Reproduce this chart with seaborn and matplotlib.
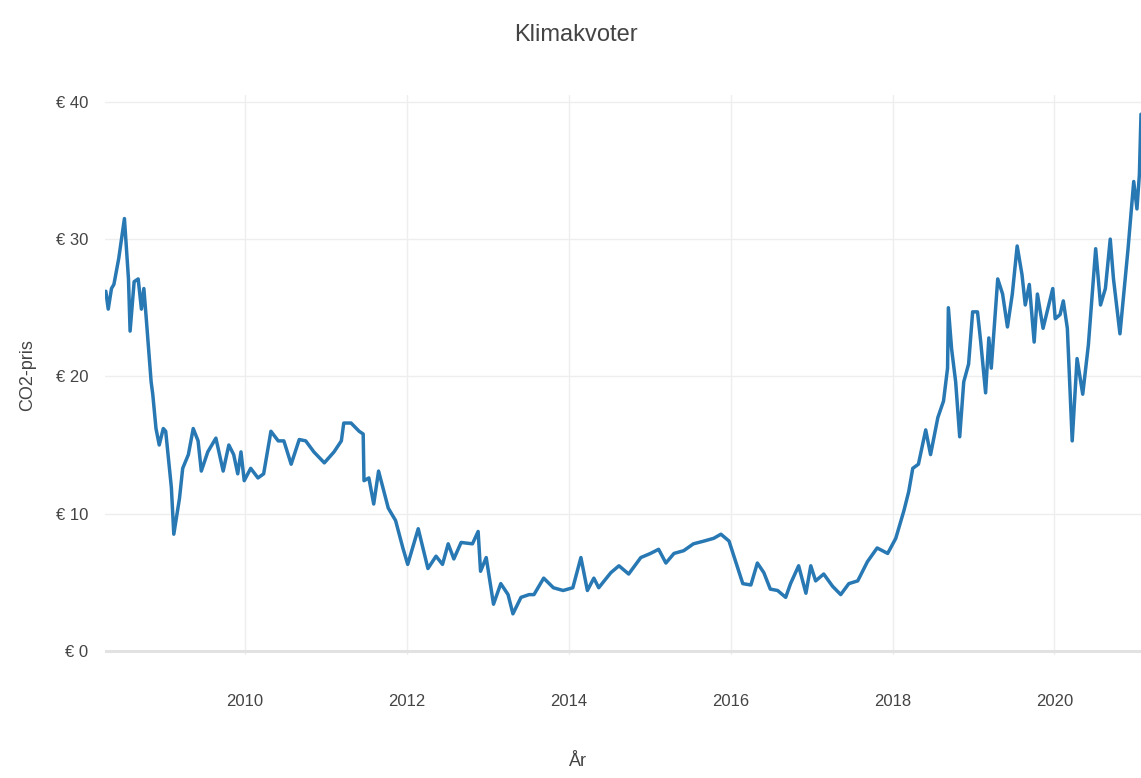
import matplotlib
matplotlib.use("Agg")
import matplotlib.pyplot as plt
import seaborn as sns
import pandas as pd
from matplotlib.ticker import FuncFormatter

years = [
    2008.28, 2008.31, 2008.35, 2008.38, 2008.44, 2008.51, 2008.56, 2008.58, 2008.63, 2008.68,
    2008.72, 2008.75, 2008.78, 2008.84, 2008.86, 2008.90, 2008.94, 2008.99, 2009.02, 2009.09,
    2009.12, 2009.19, 2009.23, 2009.30, 2009.36, 2009.42, 2009.46, 2009.54, 2009.64, 2009.73,
    2009.80, 2009.86, 2009.91, 2009.95, 2009.99, 2010.07, 2010.16, 2010.23, 2010.32, 2010.41,
    2010.48, 2010.57, 2010.67, 2010.75, 2010.85, 2010.98, 2011.10, 2011.19, 2011.22, 2011.31,
    2011.41, 2011.46, 2011.47, 2011.53, 2011.59, 2011.65, 2011.77, 2011.86, 2011.95, 2012.01,
    2012.14, 2012.26, 2012.36, 2012.44, 2012.51, 2012.58, 2012.67, 2012.81, 2012.88, 2012.91,
    2012.98, 2013.07, 2013.16, 2013.25, 2013.31, 2013.41, 2013.51, 2013.57, 2013.69, 2013.81,
    2013.93, 2014.05, 2014.15, 2014.23, 2014.31, 2014.37, 2014.52, 2014.62, 2014.74, 2014.89,
    2015.01, 2015.11, 2015.20, 2015.30, 2015.42, 2015.54, 2015.67, 2015.79, 2015.88, 2015.98,
    2016.09, 2016.15, 2016.25, 2016.33, 2016.41, 2016.49, 2016.58, 2016.68, 2016.74, 2016.84,
    2016.93, 2016.99, 2017.05, 2017.15, 2017.26, 2017.36, 2017.46, 2017.57, 2017.69, 2017.81,
    2017.94, 2018.04, 2018.14, 2018.20, 2018.25, 2018.32, 2018.41, 2018.47, 2018.56, 2018.63,
    2018.68, 2018.69, 2018.73, 2018.78, 2018.83, 2018.88, 2018.94, 2018.99, 2019.05, 2019.09,
    2019.15, 2019.19, 2019.22, 2019.30, 2019.36, 2019.42, 2019.48, 2019.54, 2019.60, 2019.64,
    2019.69, 2019.75, 2019.79, 2019.86, 2019.98, 2020.01, 2020.07, 2020.11, 2020.16, 2020.22,
    2020.28, 2020.35, 2020.42, 2020.51, 2020.57, 2020.63, 2020.69, 2020.73, 2020.81, 2020.91,
    2020.98, 2021.02, 2021.05, 2021.07,
]

prices = [
    26.2, 24.9, 26.4, 26.7, 28.6, 31.5, 27.1, 23.3, 26.9, 27.1,
    24.9, 26.4, 24.2, 19.6, 18.7, 16.2, 15.0, 16.2, 16.0, 11.9,
    8.5, 11.1, 13.3, 14.3, 16.2, 15.3, 13.1, 14.5, 15.5, 13.1,
    15.0, 14.3, 12.9, 14.5, 12.4, 13.3, 12.6, 12.9, 16.0, 15.3,
    15.3, 13.6, 15.4, 15.3, 14.5, 13.7, 14.5, 15.3, 16.6, 16.6,
    16.0, 15.8, 12.4, 12.6, 10.7, 13.1, 10.4, 9.5, 7.5, 6.3,
    8.9, 6.0, 6.9, 6.3, 7.8, 6.7, 7.9, 7.8, 8.7, 5.8,
    6.8, 3.4, 4.9, 4.1, 2.7, 3.9, 4.1, 4.1, 5.3, 4.6,
    4.4, 4.6, 6.8, 4.4, 5.3, 4.6, 5.7, 6.2, 5.6, 6.8,
    7.1, 7.4, 6.4, 7.1, 7.3, 7.8, 8.0, 8.2, 8.5, 8.0,
    6.0, 4.9, 4.8, 6.4, 5.7, 4.5, 4.4, 3.9, 4.9, 6.2,
    4.2, 6.2, 5.1, 5.6, 4.7, 4.1, 4.9, 5.1, 6.5, 7.5,
    7.1, 8.2, 10.2, 11.6, 13.3, 13.6, 16.1, 14.3, 17.0, 18.2,
    20.6, 25.0, 22.0, 19.6, 15.6, 19.6, 20.9, 24.7, 24.7, 22.5,
    18.8, 22.8, 20.6, 27.1, 26.0, 23.6, 26.0, 29.5, 27.4, 25.2,
    26.7, 22.5, 26.0, 23.5, 26.4, 24.2, 24.5, 25.5, 23.5, 15.3,
    21.3, 18.7, 22.3, 29.3, 25.2, 26.4, 30.0, 27.1, 23.1, 29.3,
    34.2, 32.2, 34.7, 39.1,
]

x_ticks = [2010, 2012, 2014, 2016, 2018, 2020]
y_ticks = [0, 10, 20, 30, 40]

title = "Klimakvoter"
x_label = "År"
y_label = "CO2-pris"

sns.set_theme(style="whitegrid")
plt.rcParams["font.family"] = ["Liberation Sans", "DejaVu Sans"]

df = pd.DataFrame({"year": years, "price": prices})

fig = plt.figure(figsize=(11.41, 7.78), dpi=100)
ax = fig.add_axes([105 / 1141, 123 / 778, 1036 / 1141, 560 / 778])

ax.axhline(0, color="#e2e2e2", lw=2.2, zorder=1)
sns.lineplot(data=df, x="year", y="price", ax=ax, color="#2878b4", lw=2.5, zorder=3)

ax.set_xlim(2008.27, 2021.07)
ax.set_ylim(-0.3, 40.5)
ax.set_xticks(x_ticks)
ax.set_yticks(y_ticks)
ax.xaxis.set_major_formatter(FuncFormatter(lambda v, p: f"{int(round(v))}"))
ax.yaxis.set_major_formatter(FuncFormatter(lambda v, p: f"€ {int(round(v))}"))

ax.grid(True, color="#eeeeee", lw=1.0)
ax.set_axisbelow(True)
for s in ax.spines.values():
    s.set_visible(False)

ax.tick_params(axis="x", length=0, pad=28, labelsize=12, labelcolor="#444444")
ax.tick_params(axis="y", length=0, pad=12, labelsize=12, labelcolor="#444444")

ax.set_xlabel(x_label, fontsize=13, color="#444444")
ax.xaxis.set_label_coords((578 - 105) / 1036, -(757 - 651) / 560, transform=ax.transAxes)
ax.xaxis.label.set_va("center")
ax.set_ylabel(y_label, fontsize=13, color="#444444", labelpad=14)

fig.text(0.505, 1 - 35 / 778, title, ha="center", va="center", fontsize=17, color="#444444")

fig.savefig("out.png", dpi=100, facecolor="white")
